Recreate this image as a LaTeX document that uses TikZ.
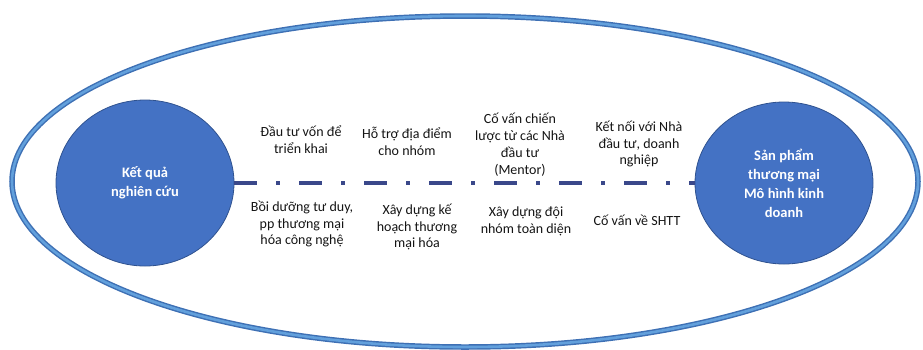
\documentclass[tikz,border=0pt]{standalone}
\usepackage{fontspec}
\setmainfont{Carlito}
\usetikzlibrary{shapes.geometric}

\definecolor{ringdark}{RGB}{62,112,180}
\definecolor{ringlight}{RGB}{98,160,220}
\definecolor{discfill}{RGB}{68,114,196}
\definecolor{discedge}{RGB}{47,82,143}
\definecolor{linknavy}{RGB}{58,72,138}
\definecolor{labeltext}{RGB}{20,20,20}

\tikzset{
  ring/.style={ellipse, inner sep=0pt, draw=ringdark, line width=5.5pt},
  disc/.style={ellipse, inner sep=0pt, fill=discfill, draw=discedge, line width=0.8pt,
    text=white, align=center, font=\fontsize{14.5}{19}\selectfont\bfseries},
  linkline/.style={draw=linknavy, line width=4pt,
    dash pattern=on 23pt off 19pt on 4pt off 19pt},
  steplabel/.style={align=center, text=labeltext, inner sep=1pt,
    font=\fontsize{14}{16.9}\selectfont}
}

\begin{document}
\begin{tikzpicture}[x=1pt, y=-1pt]
  \useasboundingbox (0,0) rectangle (923,349);

  % outer frame ellipse, with a lighter inner band
  \node[ring, minimum width=906pt, minimum height=331pt] (frame) at (465,181.5) {};
  \draw[ringlight, line width=2.6pt] (frame.center) ellipse [x radius=453pt, y radius=165.5pt];

  % start and end discs
  \node[disc, minimum width=178pt, minimum height=166pt] (start) at (145,183)
    {Kết quả\\nghiên cứu};
  \node[disc, minimum width=178pt, minimum height=162pt] (finish) at (784,183)
    {Sản phẩm\\thương mại\\Mô hình kinh\\doanh};

  % dash-dot path between them
  \draw[linkline] (start.east) -- (finish.west);

  % supports above the path
  \node[steplabel] (a1) at (301,140) {Đầu tư vốn để\\triển khai};
  \node[steplabel] (a2) at (407,141) {Hỗ trợ địa điểm\\cho nhóm};
  \node[steplabel] (a3) at (520,145) {Cố vấn chiến\\lược từ các Nhà\\đầu tư\\(Mentor)};
  \node[steplabel] (a4) at (639,144) {Kết nối với Nhà\\đầu tư, doanh\\nghiệp};

  % supports below the path
  \node[steplabel] (b1) at (302,224) {Bồi dưỡng tư duy,\\pp thương mại\\hóa công nghệ};
  \node[steplabel] (b2) at (417,227) {Xây dựng kế\\hoạch thương\\mại hóa};
  \node[steplabel] (b3) at (526,221) {Xây dựng đội\\nhóm toàn diện};
  \node[steplabel] (b4) at (637,220) {Cố vấn về SHTT};
\end{tikzpicture}
\end{document}
